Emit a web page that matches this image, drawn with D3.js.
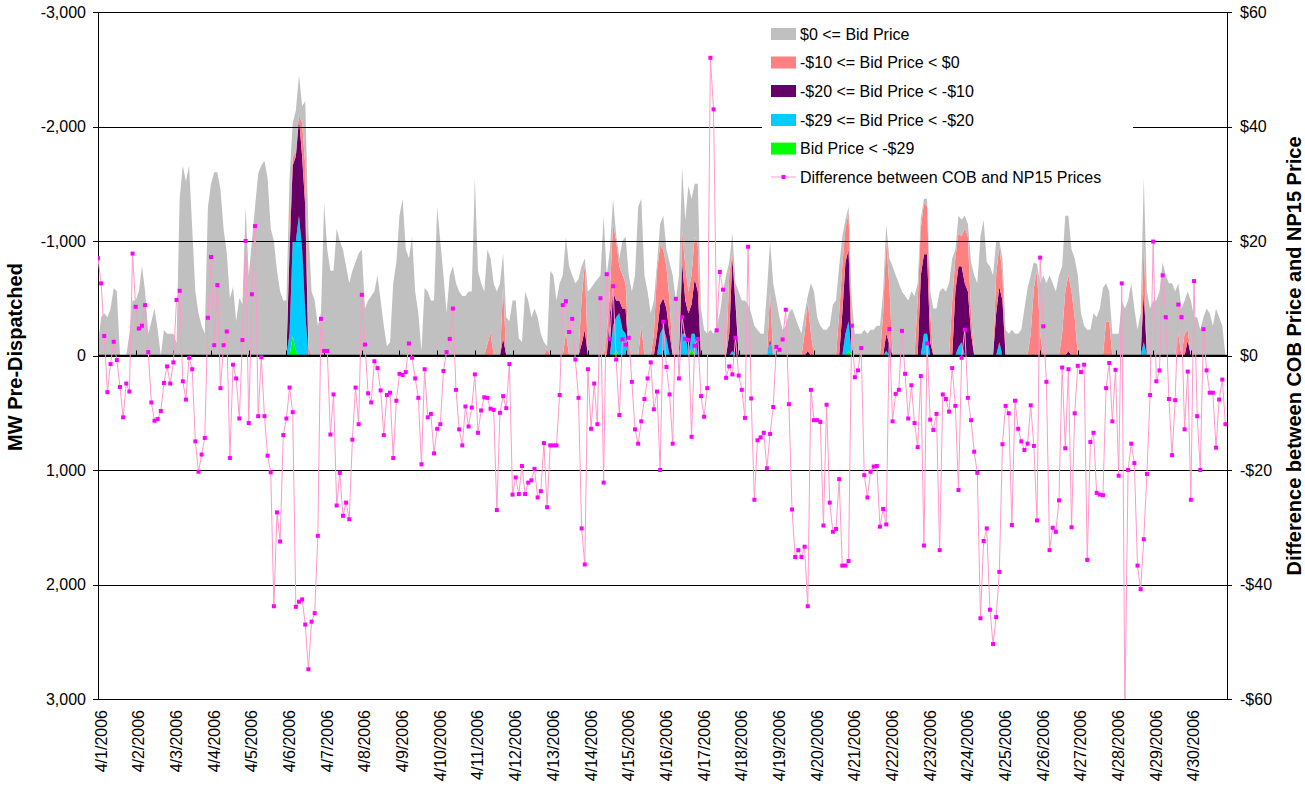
<!DOCTYPE html>
<html><head><meta charset="utf-8">
<script src="https://cdn.jsdelivr.net/npm/d3@7"></script>
<style>
body{margin:0;background:#fff;}
svg text{font-family:"Liberation Sans",Arial,sans-serif;fill:#000;}
</style></head><body>
<svg id="c" width="1305" height="792"></svg>
<script>
// ---- tick labels ----
const dayLabels = ["4/1/2006","4/2/2006","4/3/2006","4/4/2006","4/5/2006","4/6/2006","4/7/2006","4/8/2006","4/9/2006","4/10/2006",
"4/11/2006","4/12/2006","4/13/2006","4/14/2006","4/15/2006","4/16/2006","4/17/2006","4/18/2006","4/19/2006","4/20/2006",
"4/21/2006","4/22/2006","4/23/2006","4/24/2006","4/25/2006","4/26/2006","4/27/2006","4/28/2006","4/29/2006","4/30/2006"];
const leftTicks = [-3000,-2000,-1000,0,1000,2000,3000];
const rightTicks = [60,40,20,0,-20,-40,-60];
const seriesNames = ["$0 <= Bid Price","-$10 <= Bid Price < $0","-$20 <= Bid Price < -$10","-$29 <= Bid Price < -$20","Bid Price < -$29","Difference between COB and NP15 Prices"];

// ---- data: one value every 2 hours (12 per day, 30 days) ----
// MW pre-dispatched, band "$0 <= Bid Price"
const mwBidGE0 = [
-100,-335,-370,-335,-410,-590,-560,0,0,0,-190,-480,
-480,-560,-780,-560,-190,-300,-410,-225,0,-225,-190,-190,
-190,-110,-1370,-1660,-1520,-1660,-1110,-560,-370,-260,-190,-1300,
-1500,-1600,-1600,-1450,-1100,-900,-500,-600,-300,-500,-450,-1300,
-700,-1000,-1300,-1590,-1660,-1700,-1550,-1110,-1000,-740,-560,-480,
-480,-440,-290,-370,-350,-150,-560,-1030,-560,-480,-260,-370,
-1330,-925,-740,-740,-1110,-1000,-925,-780,-630,-740,-815,-890,
-925,-410,-480,-520,-560,-700,-480,-260,-80,-115,-630,-815,
-1220,-1370,-925,-850,-1040,-560,-370,-40,-590,-560,-480,-480,
-1300,-1000,-700,-370,-700,-780,-630,-560,-520,-520,-560,-560,
-1550,-740,-630,-560,-825,-650,-630,-560,-630,-290,-335,-300,
-480,-480,-150,-115,-560,-480,-335,-410,-335,-190,-115,-20,
-740,-700,-480,-630,-700,-840,-780,-700,-630,-665,-280,-50,
-560,-590,-630,-665,-700,-1220,-510,-365,-220,-50,-70,-300,
-410,-600,-560,-700,-1300,-1110,-700,-560,-370,-290,-60,-190,
-295,-145,-335,-700,-480,-700,-555,-405,-920,-670,-460,-540,
-410,-225,-190,-225,-190,-260,-370,-560,-700,-115,-170,-130,
-560,-480,-480,-445,-370,-260,-225,-190,-190,-560,-440,-630,
-480,-335,-225,-260,-370,-410,-335,-260,-190,-180,-40,-440,
-560,-335,-260,-225,-225,-260,-445,-480,-410,-260,-75,-50,
-280,-190,-190,-190,-225,-190,-225,-225,-260,-260,-190,-145,
-250,-780,-700,-630,-560,-520,-480,-560,-520,-150,-90,-35,
-70,-190,-410,-410,-560,-590,-560,-630,-370,-75,-150,-145,
-110,-110,-445,-700,-630,-1040,-1185,-815,-780,-700,-300,-40,
-150,-225,-190,-225,-190,-190,-225,-410,-590,-510,-225,-60,
-440,-700,-630,-700,-630,-560,-700,-590,-660,-520,-365,-515,
-700,-370,-260,-225,-225,-370,-335,-410,-590,-335,-265,-190,
-190,-190,-480,-410,-480,-630,-410,-225,-370,-520,-560,-410,
-480,-480,-560,-815,-700,-630,-630,-560,-440,-410,-290,-335,
-480,-335,-335,-225,-335,-410,-370,-260,-410,-335,-260,0];
// band "-$10 <= Bid Price < $0"
const mwBidM10 = [
0,0,0,0,0,0,0,0,0,0,0,0,
0,0,0,0,0,0,0,0,0,0,0,0,
0,0,0,0,0,0,0,0,0,0,0,0,
0,0,0,0,0,0,0,0,0,0,0,0,
0,0,0,0,0,0,0,0,0,0,0,0,
0,-185,-80,-30,-30,-290,-360,-80,0,0,0,0,
0,0,0,0,0,0,0,0,0,0,0,0,
0,0,0,0,0,0,0,0,0,0,0,0,
0,0,0,0,0,0,0,0,0,0,0,0,
0,0,0,0,0,0,0,0,0,0,0,0,
0,0,0,0,-100,-200,0,0,0,-450,0,0,
0,0,0,0,0,0,0,0,0,0,0,-60,
0,0,0,0,0,-200,0,0,0,0,-400,-575,
0,0,0,0,0,0,-190,-190,-590,-520,-300,-290,
-220,-100,0,0,0,-260,0,0,0,-190,-550,-515,
-425,-370,-290,0,0,0,-275,-300,-190,-255,-370,-400,
0,0,0,0,0,0,0,0,0,-510,-50,-50,
0,0,0,0,0,0,0,0,0,0,-410,0,
0,0,0,0,0,0,0,0,0,-190,-440,-190,
0,0,0,0,0,0,0,0,-370,-410,-295,-325,
-200,0,0,0,0,0,0,0,0,0,-370,-810,
-500,0,0,0,0,0,0,0,0,-480,-410,-450,
-415,-255,0,0,0,0,0,0,-480,-290,-290,-260,
-480,-480,-180,0,0,0,0,0,0,0,-330,-360,
-220,0,0,0,0,0,0,0,0,-190,-590,-740,
-190,0,0,0,0,0,0,-190,-560,-660,-560,-335,
0,0,0,0,0,0,0,0,0,-295,-295,0,
0,0,0,0,0,0,0,0,0,-470,0,0,
0,0,0,0,0,0,0,0,-190,0,-190,-95,
0,0,0,0,0,0,0,0,0,0,0,0];
// band "-$20 <= Bid Price < -$10"
const mwBidM20 = [
0,0,0,0,0,0,0,0,0,0,0,0,
0,0,0,0,0,0,0,0,0,0,0,0,
0,0,0,0,0,0,0,0,0,0,0,0,
0,0,0,0,0,0,0,0,0,0,0,0,
0,0,0,0,0,0,0,0,0,0,0,0,
0,-735,-660,-740,-850,-815,-930,0,0,0,0,0,
0,0,0,0,0,0,0,0,0,0,0,0,
0,0,0,0,0,0,0,0,0,0,0,0,
0,0,0,0,0,0,0,0,0,0,0,0,
0,0,0,0,0,0,0,0,0,0,0,0,
0,0,0,0,0,0,0,0,0,-150,0,0,
0,0,0,0,0,0,0,0,0,0,0,0,
0,0,0,0,0,0,0,0,0,0,-100,-225,
0,0,0,0,0,0,0,-370,-300,-145,-110,-185,
-220,0,0,0,0,0,0,0,0,0,-190,-255,
-255,-260,-190,0,0,0,-625,-290,-370,-255,-480,-560,
0,0,0,0,0,0,0,0,0,-190,-810,-450,
0,0,0,0,0,0,0,0,0,0,-35,0,
0,0,0,0,0,0,0,0,0,0,-40,0,
0,0,0,0,0,0,0,0,0,-370,-625,-625,
0,0,0,0,0,0,0,0,0,0,0,-150,
-100,0,0,0,0,0,0,0,0,0,-700,-695,
-695,-115,0,0,0,0,0,0,0,-560,-705,-665,
-630,-560,-190,0,0,0,0,0,0,0,-370,-485,
-480,0,0,0,0,0,0,0,0,0,0,0,
0,0,0,0,0,0,0,0,0,-40,0,0,
0,0,0,0,0,0,0,0,0,0,0,0,
0,0,0,0,0,0,0,0,0,-445,0,0,
0,0,0,0,0,0,0,0,0,0,0,-130,
0,0,0,0,0,0,0,0,0,0,0,0];
// band "-$29 <= Bid Price < -$20"
const mwBidM29 = [
0,0,0,0,0,0,0,0,0,0,0,0,
0,0,0,0,0,0,0,0,0,0,0,0,
0,0,0,0,0,0,0,0,0,0,0,0,
0,0,0,0,0,0,0,0,0,0,0,0,
0,0,0,0,0,0,0,0,0,0,0,0,
0,-190,-830,-960,-1220,-925,-370,0,0,0,0,0,
0,0,0,0,0,0,0,0,0,0,0,0,
0,0,0,0,0,0,0,0,0,0,0,0,
0,0,0,0,0,0,0,0,0,0,0,0,
0,0,0,0,0,0,0,0,0,0,0,0,
0,0,0,0,0,0,0,0,0,0,0,0,
0,0,0,0,0,0,0,0,0,0,0,0,
0,0,0,0,0,0,0,0,0,0,0,0,
0,0,0,0,0,0,0,0,-260,-295,-370,-225,
-190,0,0,0,0,0,0,0,0,0,0,-190,
-245,-150,0,0,0,0,-190,-190,0,-130,-190,0,
0,0,0,0,0,0,0,0,0,0,-40,0,
0,0,0,0,0,0,0,0,0,0,-115,0,
0,0,0,0,0,0,0,0,0,0,0,0,
0,0,0,0,0,0,0,0,0,0,-190,-260,
0,0,0,0,0,0,0,0,0,0,0,-40,
0,0,0,0,0,0,0,0,0,0,0,-190,
-190,0,0,0,0,0,0,0,0,0,-75,-115,
0,0,0,0,0,0,0,0,0,0,0,-115,
0,0,0,0,0,0,0,0,0,0,0,0,
0,0,0,0,0,0,0,0,0,0,0,0,
0,0,0,0,0,0,0,0,0,0,0,0,
0,0,0,0,0,0,0,0,0,-115,0,0,
0,0,0,0,0,0,0,0,0,0,0,0,
0,0,0,0,0,0,0,0,0,0,0,0];
// band "Bid Price < -$29"
const mwBidBelowM29 = [
0,0,0,0,0,0,0,0,0,0,0,0,
0,0,0,0,0,0,0,0,0,0,0,0,
0,0,0,0,0,0,0,0,0,0,0,0,
0,0,0,0,0,0,0,0,0,0,0,0,
0,0,0,0,0,0,0,0,0,0,0,0,
0,0,-170,-40,0,0,0,0,0,0,0,0,
0,0,0,0,0,0,0,0,0,0,0,0,
0,0,0,0,0,0,0,0,0,0,0,0,
0,0,0,0,0,0,0,0,0,0,0,0,
0,0,0,0,0,0,0,0,0,0,0,0,
0,0,0,0,0,0,0,0,0,0,0,0,
0,0,0,0,0,0,0,0,0,0,0,0,
0,0,0,0,0,0,0,0,0,0,0,0,
0,0,0,0,0,0,0,0,0,-40,0,0,
0,0,0,0,0,0,0,0,0,0,0,0,
0,0,0,0,0,0,0,0,0,-60,0,0,
0,0,0,0,0,0,0,0,0,0,0,0,
0,0,0,0,0,0,0,0,0,0,0,0,
0,0,0,0,0,0,0,0,0,0,0,0,
0,0,0,0,0,0,0,0,0,0,0,-40,
0,0,0,0,0,0,0,0,0,0,0,0,
0,0,0,0,0,0,0,0,0,0,0,0,
0,0,0,0,0,0,0,0,0,0,0,0,
0,0,0,0,0,0,0,0,0,0,0,0,
0,0,0,0,0,0,0,0,0,0,0,0,
0,0,0,0,0,0,0,0,0,0,0,0,
0,0,0,0,0,0,0,0,0,0,0,0,
0,0,0,0,0,0,0,0,0,0,0,0,
0,0,0,0,0,0,0,0,0,0,0,0,
0,0,0,0,0,0,0,0,0,0,0,0];
// $ difference between COB and NP15 prices
const priceDiff = [
17,12.6,3.4,-6.4,-1.5,2.4,-0.8,-5.5,-10.8,-4.9,-6.3,17.8,
8.5,4.7,5.2,8.8,0.6,-8.2,-11.4,-11.1,-9.7,-4.8,-1.9,-4.9,
-1.2,9.7,11.3,-4.5,-7.7,-0.4,-2.4,-15,-20.3,-17.3,-14.4,6.6,
17.2,1.8,12.3,-5.7,1.8,4.2,-17.9,-1.6,-4,-11,2.7,20,
-11.8,10.7,22.6,-10.6,-0.3,-10.6,-17.5,-20.4,-43.8,-27.4,-32.5,-13.9,
-11,-5.6,-9.9,-43.9,-43,-42.6,-47,-54.8,-46.5,-45,-31.5,6.4,
0.8,0.8,-13.8,-6.8,-26.2,-20.5,-28,-25.7,-28.6,-14.7,-5.6,-12,
10.6,1.9,-6.6,-8.2,-1,-2.2,-6.1,-13.9,-6.9,-6.5,-17.9,-7.9,
-3.2,-3.4,-2.9,2.1,-0.4,-4,-7.4,-19,-2.4,-10.8,-10.2,-17.1,
-12.8,-12,-2.7,0.6,2.9,8.2,-6,-12.9,-15.7,-8.9,-12.4,-9.1,
-3.3,-13.5,-9.6,-7.3,-7.4,-9.3,-9.5,-27,-10,-7.1,-9.2,-1.5,
-24.3,-21.3,-24.2,-19.3,-24.2,-22.2,-21.8,-19.8,-24.8,-23.7,-15.3,-26.5,
-15.7,-15.7,-15.7,-6.9,8.8,9.5,4.1,6.4,-0.7,-7.4,-30.2,-36.5,
-2.4,-12.8,-4.9,-12,10,-22.2,14.2,2.9,12.1,-0.7,-10.4,2.8,
1.9,3.1,-4.6,-12.9,-15.4,-11.5,-7.6,-4,-1.2,-9.4,-6.3,-20,
5.9,-2,-6.8,-15.4,9.9,-4,6.7,2.9,2.7,-14.2,1.7,2.9,
-7.1,-10.7,-5.7,52,43,4.4,14.6,11.5,-3.9,-1.9,-3.3,3.1,
-3.5,-6,-10.9,19,-7.5,-25.2,-14.8,-14.3,-13.5,-19.7,-13.7,-9,
1.5,1,2.8,8,-8.5,-26.9,-35.2,-34,-35.2,-33.4,-43.8,-6,
-11.3,-11.3,-11.6,-29.7,-8.6,-25.7,-30.8,-30.3,-21.6,-36.7,-36.7,-35.9,
5.2,-3.8,-2.6,1.3,-20.9,-24.8,-20.3,-19.4,-19.3,-29.9,-26.8,-29.5,
4.6,-11.5,-6.7,-6,4.3,-3.2,-11,-5.2,-11.8,-16,-3.6,-33.2,
2.1,-11.2,-13,-10.2,-34,-6.8,-7.6,-9.8,-2.2,-8.8,-23.5,-0.4,
4.5,-7.4,-11.3,-16.8,-20.5,-45.9,-32.4,-30.2,-44.4,-50.4,-45.7,-37.8,
-15.5,-8.8,-10.1,-29.6,-7.9,-12.8,-15,-16.5,-15.4,-8.7,-15.8,-28.8,
17.1,5.1,-4.6,-34,-30.1,-30.8,-25.3,-2.1,-16.2,-2.4,-30,-10.1,
-1.8,-2.9,-1.6,-35.7,-15.1,-13.5,-24,-24.3,-24.4,-5.7,-1.3,-11.5,
-2.5,-21,12.6,-62,-20,-15.4,-18.8,-36.7,-40.8,-32.1,-20.7,-6.9,
19.9,-4.5,-2.6,14,6.7,-7.6,-17.4,-7.8,8.9,6.7,-12.9,-2.8,
-25.2,13,-10.6,-20,4.6,-2.6,-6.5,-6.5,-16.1,-7.7,-4.2,-12];

// ---- chart ----
const svg = d3.select("#c");
const X0 = 98, X1 = 1227, Y0 = 12, Y1 = 699;
const hours = priceDiff.map((v, i) => i * 2);
const x = d3.scaleLinear().domain([0, 719]).range([X0, X1]);
const yL = d3.scaleLinear().domain([-3000, 3000]).range([Y0, Y1]);
const yR = d3.scaleLinear().domain([60, -60]).range([Y0, Y1]);

const rows = hours.map((h, i) => ({hour: h, green: mwBidBelowM29[i], cyan: mwBidM29[i],
  purple: mwBidM20[i], salmon: mwBidM10[i], gray: mwBidGE0[i]}));
const keys = ["green", "cyan", "purple", "salmon", "gray"];
const colors = {gray: "#c0c0c0", salmon: "#ff8080", purple: "#660066", cyan: "#00ccff", green: "#00ff00"};
const stacked = d3.stack().keys(keys)(rows);
const area = d3.area().x(d => x(d.data.hour)).y0(d => yL(d[0])).y1(d => yL(d[1]));

svg.append("defs").append("clipPath").attr("id", "plot")
  .append("rect").attr("x", X0).attr("y", Y0).attr("width", X1 - X0).attr("height", Y1 - Y0);

svg.append("g").attr("clip-path", "url(#plot)").selectAll("path").data(stacked).join("path")
  .attr("fill", d => colors[d.key]).attr("stroke", "none").attr("d", area);

// gridlines
svg.append("g").attr("transform", `translate(${X0},0)`)
  .call(d3.axisLeft(yL).tickValues(leftTicks).tickSize(-(X1 - X0)).tickFormat(""))
  .call(g => g.select(".domain").remove())
  .call(g => g.selectAll("line").attr("stroke", "#000").attr("stroke-width", 1)
     .attr("shape-rendering", "crispEdges"));

// legend background (covers gridline)
const legX = 762, legY = 14;
svg.append("rect").attr("x", legX).attr("y", legY).attr("width", 371).attr("height", 177).attr("fill", "#fff");

// left axis
const fmt = d3.formatLocale({decimal: ".", thousands: ",", grouping: [3], currency: ["$", ""], minus: "-"}).format(",");
const gL = svg.append("g").attr("transform", `translate(${X0},0)`)
  .call(d3.axisLeft(yL).tickValues(leftTicks).tickSize(5).tickPadding(7).tickFormat(fmt));
// right axis
const gR = svg.append("g").attr("transform", `translate(${X1},0)`)
  .call(d3.axisRight(yR).tickValues(rightTicks).tickSize(5).tickPadding(8)
    .tickFormat(d => (d < 0 ? "-$" : "$") + Math.abs(d)));
[gL, gR].forEach(g => {
  g.selectAll("text").attr("font-size", 16).attr("font-family", "Liberation Sans, Arial, sans-serif");
  g.selectAll("line,path").attr("stroke", "#000").attr("shape-rendering", "crispEdges");
});

// x axis at zero
const y0px = yL(0);
const gX = svg.append("g");
gX.append("line").attr("x1", X0).attr("x2", X1).attr("y1", y0px).attr("y2", y0px)
  .attr("stroke", "#000").attr("stroke-width", 1.5);
const dayTicks = dayLabels.map((d, k) => ({label: d, hour: 24 * k}));
gX.selectAll("line.tk").data(dayTicks.slice(1)).join("line").attr("class", "tk")
  .attr("x1", d => Math.round(x(d.hour)) + 0.5).attr("x2", d => Math.round(x(d.hour)) + 0.5)
  .attr("y1", y0px).attr("y2", y0px - 5).attr("stroke", "#000");
svg.append("g").selectAll("text").data(dayTicks).join("text")
  .attr("transform", d => `translate(${x(d.hour) + 3},710) rotate(-90)`)
  .attr("text-anchor", "end").attr("dy", "0.35em").attr("font-size", 16).text(d => d.label);

// top/bottom border
svg.append("line").attr("x1", X0).attr("x2", X1).attr("y1", Y0 + 0.5).attr("y2", Y0 + 0.5).attr("stroke", "#000");
svg.append("line").attr("x1", X0).attr("x2", X1).attr("y1", Y1 + 0.5).attr("y2", Y1 + 0.5).attr("stroke", "#000");

// price difference line + markers
const pts = hours.map((h, i) => ({hour: h, v: priceDiff[i]}));
const gLine = svg.append("g").attr("clip-path", "url(#plot)");
gLine.append("path").datum(pts)
  .attr("d", d3.line().x(d => x(d.hour)).y(d => yR(d.v)))
  .attr("fill", "none").attr("stroke", "#ff99cc").attr("stroke-width", 1);
gLine.selectAll("rect").data(pts).join("rect")
  .attr("x", d => x(d.hour) - 2).attr("y", d => yR(d.v) - 2)
  .attr("width", 4).attr("height", 4).attr("fill", "#ff00ff");

// legend
const legRows = [34, 62.5, 91, 120, 148.6, 177];
const legColors = [colors.gray, colors.salmon, colors.purple, colors.cyan, colors.green];
const leg = svg.append("g");
seriesNames.forEach((name, i) => {
  const cy = legRows[i];
  if (i < 5) {
    leg.append("rect").attr("x", 771).attr("y", cy - 6).attr("width", 25).attr("height", 12).attr("fill", legColors[i]);
  } else {
    leg.append("line").attr("x1", 771).attr("x2", 796).attr("y1", cy).attr("y2", cy).attr("stroke", "#ff99cc");
    leg.append("rect").attr("x", 781.5).attr("y", cy - 2).attr("width", 4).attr("height", 4).attr("fill", "#ff00ff");
  }
  leg.append("text").attr("x", 800).attr("y", cy).attr("dy", "0.35em").attr("font-size", 16).text(name);
});

// axis titles
svg.append("text").attr("transform", "translate(15,357) rotate(-90)").attr("text-anchor", "middle")
  .attr("dy", "0.35em").attr("font-size", 20).attr("font-weight", "bold").text("MW Pre-Dispatched");
svg.append("text").attr("transform", "translate(1294,356) rotate(-90)").attr("text-anchor", "middle")
  .attr("dy", "0.35em").attr("font-size", 20).attr("font-weight", "bold").text("Difference between COB Price and NP15 Price");
</script>
</body></html>
